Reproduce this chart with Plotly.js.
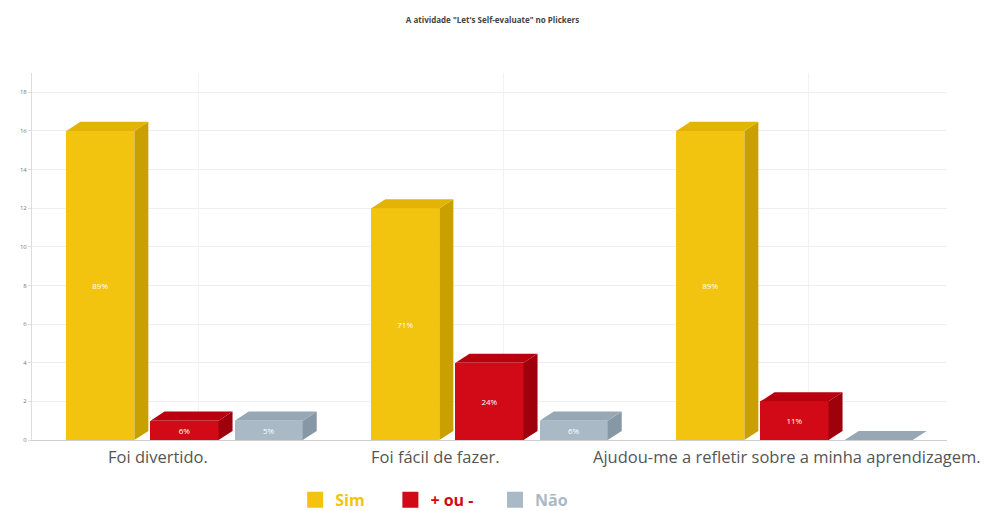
<!DOCTYPE html>
<html>
<head>
<meta charset="utf-8">
<script src="https://cdn.plot.ly/plotly-3.0.1.min.js"></script>
<style>html,body{margin:0;padding:0;background:#fff;}#chart{width:985px;height:511px;}</style>
</head>
<body>
<div id="chart"></div>
<script>
// ---- data ----
const categories = ["Foi divertido.", "Foi fácil de fazer.", "Ajudou-me a refletir sobre a minha aprendizagem."];
const seriesNames = ["Sim", "+ ou -", "Não"];
const simValues = [16, 12, 16];
const maisOuMenosValues = [1, 4, 2];
const naoValues = [1, 1, 0];
const simLabels = ["89%", "71%", "89%"];
const maisOuMenosLabels = ["6%", "24%", "11%"];
const naoLabels = ["5%", "6%", ""];
const yTicks = [0, 2, 4, 6, 8, 10, 12, 14, 16, 18];

// ---- styling ----
const frontColors = ["#F2C30F", "#D20A17", "#A9B9C5"];
const sideColors  = ["#C9A000", "#9E000C", "#8698A5"];
const topColors   = ["#E3B405", "#B8000F", "#97A8B4"];
const legendText = ["#F2C30F", "#D20A17", "#A9B9C5"];
const labelShiftPx = [-27, -54, -8];
const legendPads = ["\u00A0\u00A0\u00A0\u00A0\u00A0", "\u00A0\u00A0\u00A0\u00A0", ""];
const allValues = [simValues, maisOuMenosValues, naoValues];
const allLabels = [simLabels, maisOuMenosLabels, naoLabels];

const spacing = 0.276, barW = 0.223, dx = 0.046, dy = 0.47;
const traces = [];
const polys = [];
const legendTraces = [];
for (let s = 0; s < 3; s++) {
  const xs = categories.map((c, i) => i + (s - 1) * spacing);
  traces.push({
    type: "bar", x: xs, y: allValues[s], width: barW, showlegend: false,
    marker: {color: frontColors[s], line: {width: 0}},
    text: allLabels[s], textposition: "inside", insidetextanchor: "middle",
    textfont: {color: "#ffffff", size: 8, family: "Open Sans"},
    constraintext: "none", hoverinfo: "skip", cliponaxis: false
  });
  const sx = [], sy = [], tx = [], ty = [];
  xs.forEach((x, i) => {
    const v = allValues[s][i];
    const x0 = x - barW / 2, x1 = x + barW / 2;
    sx.push(x1, x1 + dx, x1 + dx, x1, x1, null);
    sy.push(0, dy, v + dy, v, 0, null);
    tx.push(x0, x0 + dx, x1 + dx, x1, x0, null);
    ty.push(v, v + dy, v + dy, v, v, null);
  });
  polys.push({type: "scatter", mode: "lines", x: sx, y: sy, fill: "toself", fillcolor: sideColors[s],
    line: {width: 0, color: sideColors[s]}, showlegend: false, hoverinfo: "skip", cliponaxis: false});
  polys.push({type: "scatter", mode: "lines", x: tx, y: ty, fill: "toself", fillcolor: topColors[s],
    line: {width: 0, color: topColors[s]}, showlegend: false, hoverinfo: "skip", cliponaxis: false});
  legendTraces.push({type: "scatter", mode: "markers", x: [null], y: [null], showlegend: true,
    name: '<b><span style="color:' + legendText[s] + '">' + seriesNames[s] + '</span></b>' + legendPads[s],
    marker: {symbol: "square", size: 17, color: frontColors[s]}, hoverinfo: "skip"});
}

const annotations = categories.map((c, i) => ({
  text: c, x: i, xref: "x", y: 0, yref: "paper", yshift: -16, xshift: labelShiftPx[i],
  xanchor: "center", yanchor: "middle", showarrow: false,
  font: {family: "Open Sans", size: 16.5, color: "#555"}
}));

const layout = {
  width: 985, height: 511,
  margin: {l: 32, r: 38, t: 73, b: 71},
  paper_bgcolor: "#ffffff", plot_bgcolor: "#ffffff",
  title: {text: "<b>A atividade \"Let's Self-evaluate\" no Plickers</b>",
    font: {family: "Open Sans", size: 8, color: "#444"}, x: 0.5, xanchor: "center", y: 0.96, yanchor: "middle"},
  xaxis: {
    type: "linear", range: [-0.5, 2.5], tickvals: categories.map((c, i) => i + dx), showticklabels: false,
    showgrid: true, gridcolor: "#f2f2f2", zeroline: false,
    showline: true, linecolor: "#cfcfcf", linewidth: 1, ticks: "",
    automargin: false, fixedrange: true
  },
  yaxis: {
    range: [0, 19], tickvals: yTicks, ticktext: yTicks.map(String),
    showgrid: true, gridcolor: "#efefef", zeroline: false,
    showline: true, linecolor: "#dddddd", linewidth: 1,
    ticks: "outside", ticklen: 3, tickcolor: "#dddddd",
    tickfont: {family: "Open Sans", size: 6, color: "#777"}, automargin: false, fixedrange: true
  },
  annotations: annotations,
  showlegend: true,
  legend: {orientation: "h", xref: "container", x: 0.4408, xanchor: "center",
    yref: "container", y: 0.022, yanchor: "middle",
    font: {family: "Open Sans", size: 16}, itemwidth: 30, tracegroupgap: 0, bgcolor: "rgba(0,0,0,0)"},
  bargap: 0
};

Plotly.newPlot("chart", traces.concat(polys, legendTraces), layout, {displayModeBar: false, staticPlot: true});
</script>
</body>
</html>
